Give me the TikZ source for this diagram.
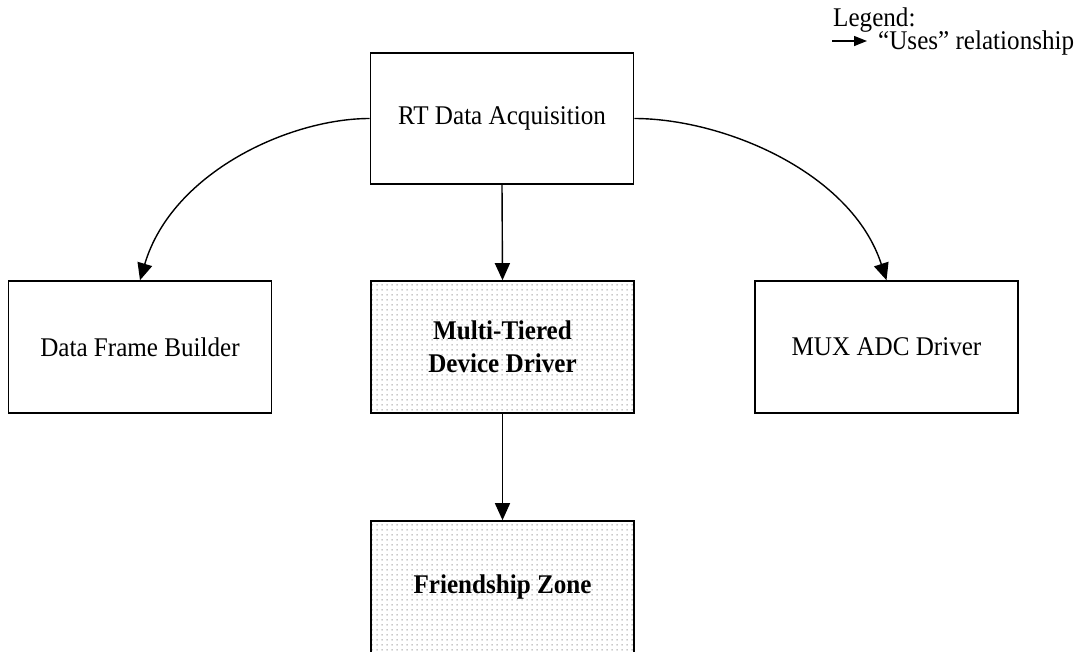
\documentclass[tikz,border=0pt]{standalone}
\usepackage{fontspec}
\setmainfont{Liberation Serif}[FakeStretch=0.93]
\usetikzlibrary{arrows.meta,patterns}
\pgfdeclarepatternformonly{dotgrid}{\pgfqpoint{0pt}{0pt}}{\pgfqpoint{5pt}{5pt}}{\pgfqpoint{5pt}{5pt}}{%
  \pgfpathrectangle{\pgfqpoint{1.5pt}{1.8pt}}{\pgfqpoint{2pt}{1.3pt}}\pgfusepath{fill}}
\begin{document}
\begin{tikzpicture}[x=1pt,y=-1pt,
  box/.style={draw=black, line width=1.6pt, rectangle, minimum width=263pt, minimum height=132pt,
    align=center, inner sep=0pt, font=\fontsize{27}{33}\selectfont},
  dotted box/.style={box, pattern=dotgrid, pattern color=gray!65, font=\fontsize{27}{33}\selectfont\bfseries},
  conn/.style={draw=black, line width=1.4pt, -{Triangle[width=15pt,length=17pt]}},
  legarr/.style={draw=black, line width=1.4pt, -{Triangle[width=10pt,length=13pt]}},
  legtext/.style={anchor=base west, inner sep=0pt, font=\fontsize{27}{30}\selectfont}]
\useasboundingbox (0,0) rectangle (1086,651);
\node[box, minimum height=131pt] (rt) at (502,118.5) {RT Data Acquisition};
\node[box] (dfb) at (140,347) {Data Frame Builder};
\node[dotted box] (mtd) at (502.5,347) {Multi-Tiered\\Device Driver};
\node[box] (mux) at (886.5,347) {MUX ADC Driver};
\node[dotted box] (fz) at (502.5,587) {Friendship Zone};
\draw[conn] (rt.west) .. controls +(-80,0) and +(32,-108) .. (dfb.north);
\draw[conn] (rt.east) .. controls +(89,0) and +(-35,-108) .. (mux.north);
\draw[conn] (rt.south) -- (mtd.north);
\draw[conn] (mtd.south) -- (fz.north);
% legend
\node[legtext] (leg) at (833,26) {Legend:};
\node[legtext] (uses) at (878,49) {“Uses” relationship};
\coordinate (la) at (832,41);
\coordinate (lb) at (867,41);
\draw[legarr] (la) -- (lb);
\end{tikzpicture}
\end{document}
